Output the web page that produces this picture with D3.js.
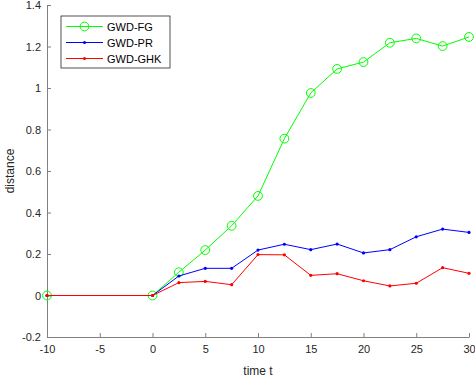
<!DOCTYPE html>
<html>
<head>
<meta charset="utf-8">
<script src="https://cdn.jsdelivr.net/npm/d3@7"></script>
<style>
  body { margin: 0; background: #fff; }
  text { font-family: "Liberation Sans", Arial, sans-serif; }
</style>
</head>
<body>
<div id="chart"></div>
<script>
const times = [-10, 0, 2.5, 5, 7.5, 10, 12.5, 15, 17.5, 20, 22.5, 25, 27.5, 30];
const fgValues = [0, 0, 0.112, 0.219, 0.336, 0.48, 0.756, 0.976, 1.092, 1.125, 1.218, 1.239, 1.202, 1.246];
const prValues = [0, 0, 0.094, 0.131, 0.131, 0.219, 0.247, 0.221, 0.248, 0.205, 0.221, 0.283, 0.32, 0.304];
const ghkValues = [0, 0, 0.062, 0.068, 0.052, 0.197, 0.196, 0.097, 0.105, 0.071, 0.046, 0.059, 0.134, 0.107];
const xTicks = [-10, -5, 0, 5, 10, 15, 20, 25, 30];
const yTicks = [-0.2, 0, 0.2, 0.4, 0.6, 0.8, 1, 1.2, 1.4];
const seriesNames = ["GWD-FG", "GWD-PR", "GWD-GHK"];

const width = 475, height = 379;
const margin = { top: 5, right: 6, bottom: 42, left: 47 };

const series = [
    { name: seriesNames[0], values: fgValues, color: "#00ff00", marker: "circle" },
    { name: seriesNames[1], values: prValues, color: "#0000ff", marker: "dot" },
    { name: seriesNames[2], values: ghkValues, color: "#ff0000", marker: "dot" }
];

const x = d3.scaleLinear().domain([-10, 30]).range([margin.left, width - margin.right]);
const y = d3.scaleLinear().domain([-0.2, 1.4]).range([height - margin.bottom, margin.top]);

const svg = d3.select("#chart").append("svg")
    .attr("width", width)
    .attr("height", height);

svg.append("rect").attr("width", width).attr("height", height).attr("fill", "#fff");

// plain hyphen for negatives, like the original
const fmt = d => String(+(+d).toFixed(1));

// axes
const axisColor = "#808080";
const xAxis = svg.append("g")
    .attr("transform", `translate(0,${height - margin.bottom})`)
    .call(d3.axisBottom(x).tickValues(xTicks).tickSizeInner(-4).tickSizeOuter(0).tickPadding(8)
        .tickFormat(fmt));
const yAxis = svg.append("g")
    .attr("transform", `translate(${margin.left},0)`)
    .call(d3.axisLeft(y).tickValues(yTicks).tickSizeInner(-4).tickSizeOuter(0).tickPadding(6)
        .tickFormat(fmt));

[xAxis, yAxis].forEach(g => {
    g.select(".domain").attr("stroke", axisColor);
    g.selectAll(".tick line").attr("stroke", axisColor);
    g.selectAll(".tick text").attr("fill", "#262626").style("font-size", "11px")
        .style("font-family", "Liberation Sans, Arial, sans-serif");
});

// lines
const line = d3.line()
    .x((d, i) => x(times[i]))
    .y(d => y(d));

series.forEach(s => {
    svg.append("path")
        .datum(s.values)
        .attr("fill", "none")
        .attr("stroke", s.color)
        .attr("stroke-width", 1)
        .attr("d", line);
    const g = svg.append("g");
    if (s.marker === "circle") {
        g.selectAll("circle").data(s.values).join("circle")
            .attr("cx", (d, i) => x(times[i]))
            .attr("cy", d => y(d))
            .attr("r", 4.4)
            .attr("fill", "none")
            .attr("stroke", s.color);
    } else {
        g.selectAll("circle").data(s.values).join("circle")
            .attr("cx", (d, i) => x(times[i]))
            .attr("cy", d => y(d))
            .attr("r", 1.6)
            .attr("fill", s.color);
    }
});

// axis labels
svg.append("text")
    .attr("x", (margin.left + width - margin.right) / 2)
    .attr("y", 375)
    .attr("text-anchor", "middle")
    .attr("fill", "#262626")
    .style("font-size", "12px")
    .text("time t");

svg.append("text")
    .attr("transform", `translate(14,${(margin.top + height - margin.bottom) / 2}) rotate(-90)`)
    .attr("text-anchor", "middle")
    .attr("fill", "#262626")
    .style("font-size", "12px")
    .text("distance");

// legend
const legend = svg.append("g").attr("transform", "translate(61,16)");
legend.append("rect")
    .attr("width", 109).attr("height", 52)
    .attr("fill", "#fff").attr("stroke", "#262626").attr("stroke-width", 0.8);
series.forEach((s, i) => {
    const ly = 10.5 + i * 16;
    legend.append("line")
        .attr("x1", 5).attr("x2", 42).attr("y1", ly).attr("y2", ly)
        .attr("stroke", s.color);
    legend.append("circle")
        .attr("cx", 23.5).attr("cy", ly)
        .attr("r", s.marker === "circle" ? 4.4 : 1.6)
        .attr("fill", s.marker === "circle" ? "none" : s.color)
        .attr("stroke", s.marker === "circle" ? s.color : "none");
    legend.append("text")
        .attr("x", 46).attr("y", ly + 4)
        .attr("fill", "#000")
        .style("font-size", "11px")
        .text(s.name);
});
</script>
</body>
</html>
